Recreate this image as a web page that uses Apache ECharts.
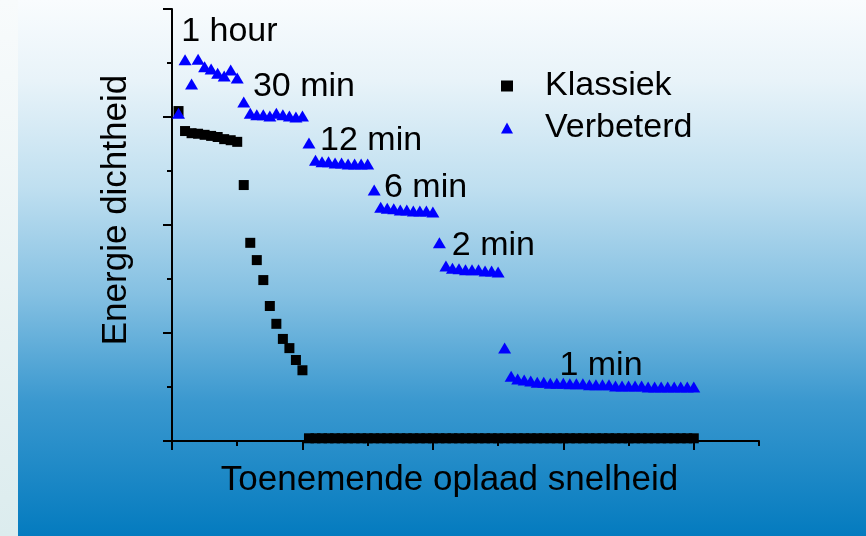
<!DOCTYPE html>
<html><head><meta charset="utf-8">
<script src="https://cdn.jsdelivr.net/npm/echarts@6/dist/echarts.min.js"></script>
<style>html,body{margin:0;padding:0;overflow:hidden;}#c{width:866px;height:536px;}</style>
</head><body><div id="c"></div>
<script>
const xValues = [0.1,0.2,0.3,0.4,0.5,0.6,0.7,0.8,0.9,1.0,
  1.1,1.2,1.3,1.4,1.5,1.6,1.7,1.8,1.9,2.0,
  2.1,2.2,2.3,2.4,2.5,2.6,2.7,2.8,2.9,3.0,
  3.1,3.2,3.3,3.4,3.5,3.6,3.7,3.8,3.9,4.0,
  4.1,4.2,4.3,4.4,4.5,4.6,4.7,4.8,4.9,5.0,
  5.1,5.2,5.3,5.4,5.5,5.6,5.7,5.8,5.9,6.0,
  6.1,6.2,6.3,6.4,6.5,6.6,6.7,6.8,6.9,7.0,
  7.1,7.2,7.3,7.4,7.5,7.6,7.7,7.8,7.9,8.0];
const klassiek = [6.11,5.74,5.70,5.69,5.67,5.65,5.63,5.59,5.57,5.54,
  4.74,3.67,3.35,2.98,2.50,2.17,1.89,1.72,1.50,1.31,
  0.05,0.05,0.05,0.05,0.05,0.05,0.05,0.05,0.05,0.05,
  0.05,0.05,0.05,0.05,0.05,0.05,0.05,0.05,0.05,0.05,
  0.05,0.05,0.05,0.05,0.05,0.05,0.05,0.05,0.05,0.05,
  0.05,0.05,0.05,0.05,0.05,0.05,0.05,0.05,0.05,0.05,
  0.05,0.05,0.05,0.05,0.05,0.05,0.05,0.05,0.05,0.05,
  0.05,0.05,0.05,0.05,0.05,0.05,0.05,0.05,0.05,0.05];
const verbeterd = [6.07,7.06,6.61,7.07,6.93,6.89,6.81,6.76,6.87,6.72,
  6.28,6.07,6.04,6.04,6.02,6.07,6.04,6.02,6.00,6.02,
  5.52,5.20,5.17,5.17,5.15,5.15,5.13,5.13,5.13,5.13,
  4.65,4.33,4.31,4.30,4.28,4.28,4.26,4.26,4.26,4.24,
  3.67,3.24,3.20,3.19,3.17,3.17,3.17,3.15,3.15,3.13,
  1.72,1.20,1.15,1.13,1.11,1.09,1.09,1.07,1.07,1.07,
  1.06,1.06,1.06,1.04,1.04,1.04,1.04,1.02,1.02,1.02,
  1.02,1.02,1.00,1.00,1.00,1.00,1.00,1.00,1.00,1.00];
const annotationLabels = ['1 hour','30 min','12 min','6 min','2 min','1 min'];
const annotationX = [0.14,1.24,2.27,3.25,4.29,5.94];
const annotationY = [7.59,6.56,5.57,4.69,3.61,1.39];
const majorTicksX = [0,2,4,6,8];
const minorTicksX = [1,3,5,7,9];
const majorTicksY = [0,2,4,6,8];
const minorTicksY = [1,3,5,7];
const xTitle = 'Toenemende oplaad snelheid';
const yTitle = 'Energie dichtheid';

const FONT = '"Liberation Sans", Arial, sans-serif';
const FS = 34;
const chart = echarts.init(document.getElementById('c'));
const G = echarts.graphic.LinearGradient;
const axisCommon = {
  type: 'value', axisLabel: {show: false}, splitLine: {show: false}
};
const lineStyle = {color: '#000', width: 2};
const option = {
  animation: false,
  backgroundColor: new G(0, 0, 0, 1, [
    {offset: 0, color: '#f9fcfe'},
    {offset: 0.15, color: '#e8f3f9'},
    {offset: 0.35, color: '#bfdff0'},
    {offset: 0.55, color: '#84c0e2'},
    {offset: 0.75, color: '#3a98cf'},
    {offset: 1, color: '#047bbf'}
  ]),
  graphic: [{
    type: 'rect', z: 0, silent: true,
    shape: {x: 0, y: 0, width: 18, height: 536},
    style: {fill: new G(0, 0, 0, 1, [
      {offset: 0, color: '#f8fbfc'}, {offset: 1, color: '#dcecee'}])}
  }],
  grid: {left: 172, right: 107, top: 9, bottom: 95},
  legend: {
    orient: 'vertical', left: 501, top: 69, padding: 0, itemGap: 8,
    itemWidth: 12, itemHeight: 11,
    data: [{name: 'Klassiek', icon: 'rect', itemStyle: {opacity: 1}},
           {name: 'Verbeterd', icon: 'triangle', itemStyle: {opacity: 1}}],
    textStyle: {fontFamily: FONT, fontSize: FS, color: '#000', padding: [0, 0, 0, 27]}
  },
  xAxis: [
    Object.assign({}, axisCommon, {
      min: 0, max: 9, position: 'bottom',
      axisLine: {show: true, lineStyle: lineStyle},
      axisTick: {show: true, customValues: majorTicksX, length: 9, lineStyle: lineStyle},
      name: xTitle, nameLocation: 'middle', nameGap: 22,
      nameTextStyle: {fontFamily: FONT, fontSize: 35, color: '#000', padding: [0, 32, 0, 0]}
    }),
    Object.assign({}, axisCommon, {
      min: 0, max: 9, position: 'bottom',
      axisLine: {show: false},
      axisTick: {show: true, customValues: minorTicksX, length: 5, lineStyle: lineStyle}
    })
  ],
  yAxis: [
    Object.assign({}, axisCommon, {
      min: 0, max: 8, position: 'left',
      axisLine: {show: true, lineStyle: lineStyle},
      axisTick: {show: true, customValues: majorTicksY, length: 9, lineStyle: lineStyle},
      name: yTitle, nameLocation: 'middle', nameGap: 38, nameRotate: 90,
      nameTextStyle: {fontFamily: FONT, fontSize: 35, color: '#000', padding: [0, 0, 0, 30]}
    }),
    Object.assign({}, axisCommon, {
      min: 0, max: 8, position: 'left',
      axisLine: {show: false},
      axisTick: {show: true, customValues: minorTicksY, length: 5, lineStyle: lineStyle}
    })
  ],
  series: [
    {
      name: 'Klassiek', type: 'scatter', symbol: 'rect', symbolSize: 10,
      itemStyle: {color: '#000', opacity: 1}, z: 3,
      data: xValues.map((x, i) => [x, klassiek[i]])
    },
    {
      name: 'Verbeterd', type: 'scatter', symbol: 'triangle', symbolSize: [13, 11],
      itemStyle: {color: '#0000ff', opacity: 1}, z: 4,
      data: xValues.map((x, i) => [x, verbeterd[i]])
    },
    {
      name: 'labels', type: 'scatter', symbolSize: 0, silent: true, z: 5,
      itemStyle: {opacity: 1},
      label: {show: true, position: 'right', distance: 0, formatter: '{b}',
        fontFamily: FONT, fontSize: FS, color: '#000', opacity: 1},
      data: annotationLabels.map((t, i) => ({name: t, value: [annotationX[i], annotationY[i]]}))
    }
  ]
};
chart.setOption(option);
</script>
</body></html>
